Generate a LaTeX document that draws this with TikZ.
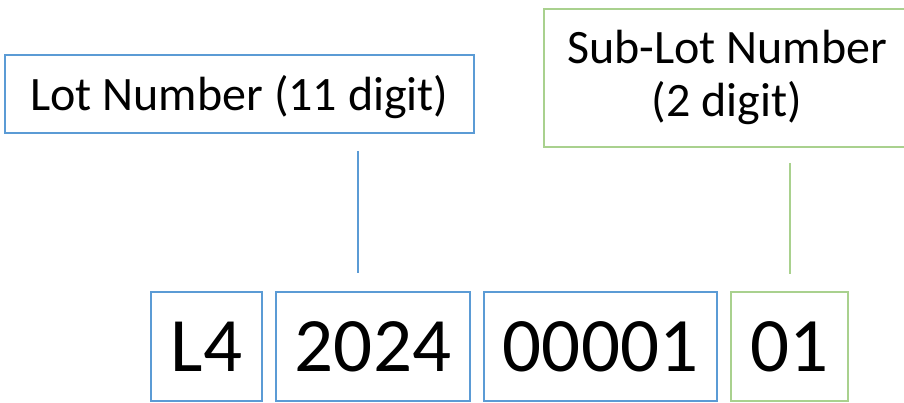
\documentclass[tikz,border=0pt]{standalone}
\usepackage{fontspec}
\setmainfont{Carlito}
\definecolor{lotblue}{HTML}{5B9BD5}
\definecolor{subgreen}{HTML}{A9D18E}
\begin{document}
\begin{tikzpicture}[x=1pt,y=-1pt,
  labelbox/.style={draw, line width=1.5pt, inner sep=0pt, font=\fontsize{48}{53}\selectfont, text height=34pt, text depth=0pt},
  digitbox/.style={draw=lotblue, line width=1.5pt, inner sep=0pt, minimum height=109pt, font=\fontsize{77}{90}\selectfont, text height=50.4pt, text depth=0pt},
  labeltext/.style={inner sep=0pt, anchor=base, font=\fontsize{48}{53}\selectfont},
  link/.style={line width=1.5pt}]
\path[use as bounding box] (0,0) rectangle (904,403);
\clip (0,0) rectangle (904,403);
% top labels
\node[labelbox, draw=lotblue, minimum width=469pt, minimum height=78pt] (lot) at (239.5,94) {Lot Number (11 digit)};
\node[labelbox, draw=subgreen, minimum width=366pt, minimum height=138pt] (sub) at (727,78) {};
\node[labeltext] (subA) at (727,63.3) {Sub-Lot Number};
\node[labeltext] (subB) at (727,116.7) {(2 digit)};
% digit boxes
\node[digitbox, minimum width=111pt] (l4) at (206.5,346.5) {L4};
\node[digitbox, minimum width=194pt] (yr) at (373,346.5) {2024};
\node[digitbox, minimum width=233pt] (seq) at (600.5,346.5) {00001};
\node[digitbox, draw=subgreen, minimum width=117pt] (sl) at (789.5,346.5) {01};
% connectors
\coordinate (lotA) at (358,151);
\coordinate (lotB) at (358,273);
\coordinate (subC) at (790,163);
\coordinate (subD) at (790,274);
\draw[link, lotblue] (lotA) -- (lotB);
\draw[link, subgreen] (subC) -- (subD);
\end{tikzpicture}
\end{document}
